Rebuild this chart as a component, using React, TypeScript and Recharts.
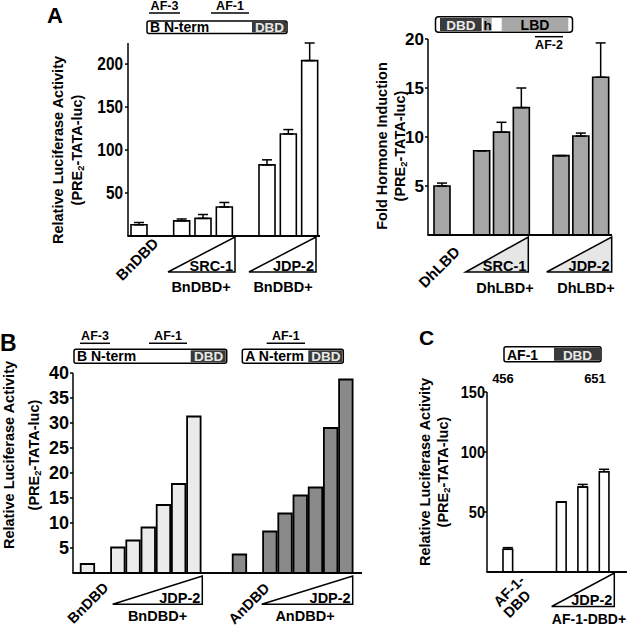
import { BarChart, Bar, XAxis, YAxis, ErrorBar } from 'recharts';

const FONT = '"Liberation Sans", Arial, Helvetica, sans-serif';

// Panel A (left): BnDBD alone, then + SRC-1 and + JDP-2 (increasing doses)
const aLeftCats = ['BnDBD', 'gap1', 'SRC-1 a', 'SRC-1 b', 'SRC-1 c', 'gap2', 'JDP-2 a', 'JDP-2 b', 'JDP-2 c'];
const aLeftValues = [13, null, 17.6, 20.5, 33.7, null, 82.7, 118.7, 204];
const aLeftErrors = [2.7, 0, 2.2, 4.5, 5.3, 0, 5.9, 5.1, 20.5];
const aLeftTicks = [50, 100, 150, 200];

// Panel A (right): DhLBD fold hormone induction
const aRightCats = ['DhLBD', 'gap1', 'SRC-1 a', 'SRC-1 b', 'SRC-1 c', 'gap2', 'JDP-2 a', 'JDP-2 b', 'JDP-2 c'];
const aRightValues = [5.0, null, 8.6, 10.5, 13.0, null, 8.1, 10.1, 16.1];
const aRightErrors = [0.3, 0, 0, 1.0, 2.0, 0, 0, 0.3, 3.5];
const aRightTicks = [5, 10, 15, 20];

// Panel B: BnDBD and AnDBD with JDP-2 titration
const bCats = [
  'BnDBD', 'gap1', 'Bn 1', 'Bn 2', 'Bn 3', 'Bn 4', 'Bn 5', 'Bn 6', 'gap2', 'gap3',
  'AnDBD', 'gap4', 'An 1', 'An 2', 'An 3', 'An 4', 'An 5', 'An 6',
];
const bLight = [1.8, null, 5.1, 6.5, 9.1, 13.6, 17.8, 31.3, null, null, null, null, null, null, null, null, null, null];
const bDark = [null, null, null, null, null, null, null, null, null, null, 3.7, null, 8.3, 11.9, 15.5, 17.1, 29.0, 38.7];
const bTicks = [5, 10, 15, 20, 25, 30, 35, 40];

// Panel C: AF-1-DBD with JDP-2
const cCats = ['AF-1-DBD', 'gap1', 'gap2', 'gap3', 'gap4', 'JDP-2 a', 'gap5', 'JDP-2 b', 'gap6', 'JDP-2 c'];
const cValues = [18.9, null, null, null, null, 58.3, null, 70.8, null, 83.6];
const cErrors = [1.4, 0, 0, 0, 0, 0, 0, 2.2, 0, 2.0];
const cTicks = [50, 100, 150];

const withErr = (cats: string[], values: (number | null)[], errs: number[]) =>
  cats.map((name, i) => ({ name, value: values[i], err: [0, errs[i]] }));

const aLeftData = withErr(aLeftCats, aLeftValues, aLeftErrors);
const aRightData = withErr(aRightCats, aRightValues, aRightErrors);
const cData = withErr(cCats, cValues, cErrors);
const bData = bCats.map((name, i) => ({ name, light: bLight[i], dark: bDark[i] }));

const axisStroke = { stroke: '#000', strokeWidth: 1.5 };

// tick labels in the figure are a bit narrow and tall
const makeTick = (size: number, sx: number) => (props: any) => {
  const { x, y, payload } = props;
  return (
    <text
      transform={`translate(${x},${y}) scale(${sx},1)`}
      textAnchor="end"
      dominantBaseline="central"
      fontSize={size}
      fontWeight={700}
      fontFamily={FONT}
      fill="#000"
    >
      {payload.value}
    </text>
  );
};

function YLabel({ x1, x2, cy, line1, size = 14.5 }: { x1: number; x2: number; cy: number; line1: string; size?: number }) {
  const common = {
    textAnchor: 'middle' as const,
    dominantBaseline: 'central' as const,
    fontSize: size,
    fontWeight: 700,
  };
  return (
    <g>
      <text x={x1} y={cy} transform={`rotate(-90 ${x1} ${cy})`} {...common}>{line1}</text>
      <text x={x2} y={cy} transform={`rotate(-90 ${x2} ${cy})`} {...common}>
        (PRE<tspan dy={3} fontSize={size * 0.65}>2</tspan><tspan dy={-3}>-TATA-luc)</tspan>
      </text>
    </g>
  );
}

function Ramp({ x0, x1, top, base, fill, label }: { x0: number; x1: number; top: number; base: number; fill: string; label: string }) {
  return (
    <g>
      <polygon points={`${x0},${base} ${x1},${top} ${x1},${base}`} fill={fill} stroke="#000" strokeWidth={1.5} />
      <text x={x1 - 2} y={base - 1.5} textAnchor="end" fontSize={14.5} fontWeight={700}>{label}</text>
    </g>
  );
}

function Tilted({ x, y, text, size = 15 }: { x: number; y: number; text: string; size?: number }) {
  return (
    <text x={x} y={y} transform={`rotate(-45 ${x} ${y})`} textAnchor="middle" dominantBaseline="central" fontSize={size} fontWeight={700}>
      {text}
    </text>
  );
}

function Overline({ x0, x1, y, text, above }: { x0: number; x1: number; y: number; text: string; above: boolean }) {
  const cx = (x0 + x1) / 2;
  return (
    <g>
      <line x1={x0} x2={x1} y1={y} y2={y} stroke="#000" strokeWidth={1.5} />
      <text x={cx} y={above ? y - 3 : y + 12} textAnchor="middle" fontSize={12.5} fontWeight={700}>{text}</text>
    </g>
  );
}

function NtermBox({ x0, x1, dbd, y, h, label }: { x0: number; x1: number; dbd: number; y: number; h: number; label: string }) {
  return (
    <g>
      <rect x={x0} y={y} width={x1 - x0} height={h} fill="#fff" stroke="#000" strokeWidth={1.5} rx={2} />
      <rect x={dbd} y={y + 1} width={x1 - dbd - 1} height={h - 2} fill="#3a3a3a" />
      <text x={x0 + 3} y={y + h - 2} fontSize={14} fontWeight={700}>{label}</text>
      <text x={(dbd + x1) / 2} y={y + h - 2} textAnchor="middle" fontSize={13.5} fontWeight={700} fill="#e8e8e8">DBD</text>
    </g>
  );
}

// horizontal axis line under each plot
function Baseline({ x0, x1, y }: { x0: number; x1: number; y: number }) {
  return <rect x={x0} y={y - 0.9} width={x1 - x0} height={1.8} fill="#000" />;
}

function Overlay() {
  return (
    <svg width={630} height={627} style={{ position: 'absolute', left: 0, top: 0, pointerEvents: 'none' }} fontFamily={FONT}>
      <Baseline x0={127.3} x1={320} y={236} />
      <Baseline x0={427.3} x1={612} y={235} />
      <Baseline x0={72.3} x1={362} y={573} />
      <Baseline x0={486.3} x1={627} y={572} />

      {/* panel letters */}
      <text x={47} y={23} fontSize={22} fontWeight={700}>A</text>
      <text x={0} y={351} fontSize={23} fontWeight={700}>B</text>
      <text x={419} y={345} fontSize={21} fontWeight={700}>C</text>

      {/* Panel A left */}
      <Overline x0={149} x1={180} y={13} text="AF-3" above />
      <Overline x0={211} x1={249} y={13} text="AF-1" above />
      <NtermBox x0={147} x1={287} dbd={252} y={21} h={12.5} label="B N-term" />
      <YLabel x1={58} x2={77} cy={150} line1="Relative Luciferase Activity" />
      <Tilted x={137} y={259} text="BnDBD" />
      <Ramp x0={168} x1={235} top={237} base={272} fill="#fff" label="SRC-1" />
      <Ramp x0={249} x1={316} top={237} base={272} fill="#fff" label="JDP-2" />
      <text x={201} y={292} textAnchor="middle" fontSize={14.5} fontWeight={700}>BnDBD+</text>
      <text x={283} y={292} textAnchor="middle" fontSize={14.5} fontWeight={700}>BnDBD+</text>

      {/* Panel A right */}
      <rect x={435.5} y={16.7} width={137} height={15.6} fill="#fff" stroke="#000" strokeWidth={1.5} rx={3} />
      <rect x={440} y={18} width={41.7} height={13} fill="#3a3a3a" />
      <text x={460.8} y={29.5} textAnchor="middle" fontSize={13.5} fontWeight={700} fill="#e8e8e8">DBD</text>
      <rect x={483.3} y={18} width={8.4} height={13} fill="#a8a8a8" />
      <text x={487.5} y={29.5} textAnchor="middle" fontSize={13.5} fontWeight={700}>h</text>
      <rect x={501.7} y={18} width={66.6} height={13} fill="#a8a8a8" />
      <text x={535} y={29.5} textAnchor="middle" fontSize={14} fontWeight={700}>LBD</text>
      <Overline x0={535} x1={563} y={36.7} text="AF-2" above={false} />
      <YLabel x1={381.7} x2={400} cy={146} line1="Fold Hormone Induction" />
      <Tilted x={439} y={267} text="DhLBD" />
      <Ramp x0={465.7} x1={528.3} top={237} base={272} fill="#e6e6e6" label="SRC-1" />
      <Ramp x0={546.7} x1={611.7} top={237} base={272} fill="#e6e6e6" label="JDP-2" />
      <text x={505} y={293} textAnchor="middle" fontSize={14.5} fontWeight={700}>DhLBD+</text>
      <text x={586} y={293} textAnchor="middle" fontSize={14.5} fontWeight={700}>DhLBD+</text>

      {/* Panel B */}
      <Overline x0={80} x1={110} y={343.3} text="AF-3" above />
      <Overline x0={149} x1={187} y={343.3} text="AF-1" above />
      <Overline x0={266.7} x1={305} y={343.3} text="AF-1" above />
      <NtermBox x0={74} x1={226.7} dbd={190.7} y={349.3} h={14} label="B N-term" />
      <NtermBox x0={242.3} x1={343.3} dbd={308.3} y={349.3} h={14} label="A N-term" />
      <YLabel x1={9} x2={34} cy={455} line1="Relative Luciferase Activity" />
      <Tilted x={88} y={603} text="BnDBD" size={14.5} />
      <Tilted x={249} y={603.5} text="AnDBD" size={14.5} />
      <Ramp x0={112.7} x1={202.3} top={576} base={604.3} fill="#fff" label="JDP-2" />
      <Ramp x0={261.7} x1={352.7} top={576} base={604.3} fill="#fff" label="JDP-2" />
      <text x={157.5} y={621} textAnchor="middle" fontSize={14.5} fontWeight={700}>BnDBD+</text>
      <text x={305} y={621} textAnchor="middle" fontSize={14.5} fontWeight={700}>AnDBD+</text>

      {/* Panel C */}
      <NtermBox x0={504} x1={601} dbd={554} y={346.7} h={15} label="AF-1" />
      <text x={503} y={383} textAnchor="middle" fontSize={13} fontWeight={700}>456</text>
      <text x={595} y={383} textAnchor="middle" fontSize={13} fontWeight={700}>651</text>
      <YLabel x1={425} x2={443.3} cy={472} line1="Relative Luciferase Activity" />
      <Tilted x={509} y={591} text="AF-1-" size={14.5} />
      <Tilted x={517} y={604} text="DBD" size={14.5} />
      <Ramp x0={551.7} x1={614.3} top={573} base={606.5} fill="#fff" label="JDP-2" />
      <text x={589} y={623.5} textAnchor="middle" fontSize={14} fontWeight={700}>AF-1-DBD+</text>
    </svg>
  );
}

export default function App() {
  return (
    <div style={{ position: 'absolute', left: 0, top: 0, width: 630, height: 627, background: '#fff', overflow: 'hidden', fontFamily: FONT }}>
      {/* A left */}
      <div style={{ position: 'absolute', left: 68, top: 28 }}>
        <BarChart width={257} height={209} data={aLeftData} margin={{ top: 15, right: 5, bottom: 0, left: 0 }} barSize={16}>
          <XAxis dataKey="name" height={1} tick={false} tickLine={false} axisLine={axisStroke} />
          <YAxis width={60} domain={() => [0, 212]} ticks={aLeftTicks} interval={0} tick={makeTick(17.5, 0.88)} tickSize={3} tickMargin={2} tickLine={axisStroke} axisLine={axisStroke} />
          <Bar dataKey="value" fill="#fff" stroke="#000" strokeWidth={1.6} isAnimationActive={false}>
            <ErrorBar dataKey="err" direction="y" width={5} stroke="#000" strokeWidth={1.5} />
          </Bar>
        </BarChart>
      </div>

      {/* A right */}
      <div style={{ position: 'absolute', left: 378, top: 24 }}>
        <BarChart width={239} height={212} data={aRightData} margin={{ top: 15, right: 5, bottom: 0, left: 0 }} barSize={16}>
          <XAxis dataKey="name" height={1} tick={false} tickLine={false} axisLine={axisStroke} padding={{ left: 4, right: 1.5 }} />
          <YAxis width={50} domain={() => [0, 20]} ticks={aRightTicks} interval={0} tick={makeTick(17, 1)} tickSize={3} tickMargin={1} tickLine={axisStroke} axisLine={axisStroke} />
          <Bar dataKey="value" fill="#a6a6a6" stroke="#000" strokeWidth={1.6} isAnimationActive={false}>
            <ErrorBar dataKey="err" direction="y" width={5} stroke="#000" strokeWidth={1.5} />
          </Bar>
        </BarChart>
      </div>

      {/* B */}
      <div style={{ position: 'absolute', left: 33, top: 358 }}>
        <BarChart width={331} height={216} data={bData} margin={{ top: 15, right: 2, bottom: 0, left: 0 }} barSize={13.5} barGap={-13.5}>
          <XAxis dataKey="name" height={1} tick={false} tickLine={false} axisLine={axisStroke} padding={{ left: 6.7, right: 8.7 }} />
          <YAxis width={40} domain={() => [0, 40]} ticks={bTicks} interval={0} tick={makeTick(18, 1)} tickSize={3} tickMargin={1} tickLine={axisStroke} axisLine={axisStroke} />
          <Bar dataKey="light" fill="#ebebeb" stroke="#000" strokeWidth={1.8} isAnimationActive={false} />
          <Bar dataKey="dark" fill="#8a8a8a" stroke="#000" strokeWidth={1.8} isAnimationActive={false} />
        </BarChart>
      </div>

      {/* C */}
      <div style={{ position: 'absolute', left: 442, top: 377 }}>
        <BarChart width={186} height={196} data={cData} margin={{ top: 15, right: 2, bottom: 0, left: 0 }} barSize={17}>
          <XAxis dataKey="name" height={1} tick={false} tickLine={false} axisLine={axisStroke} padding={{ left: 15, right: 17 }} />
          <YAxis width={45} domain={() => [0, 150]} ticks={cTicks} interval={0} tick={makeTick(16.5, 0.88)} tickSize={3} tickMargin={-1} tickLine={axisStroke} axisLine={axisStroke} />
          <Bar dataKey="value" fill="#fff" stroke="#000" strokeWidth={1.6} isAnimationActive={false}>
            <ErrorBar dataKey="err" direction="y" width={5} stroke="#000" strokeWidth={1.5} />
          </Bar>
        </BarChart>
      </div>

      <Overlay />
    </div>
  );
}
